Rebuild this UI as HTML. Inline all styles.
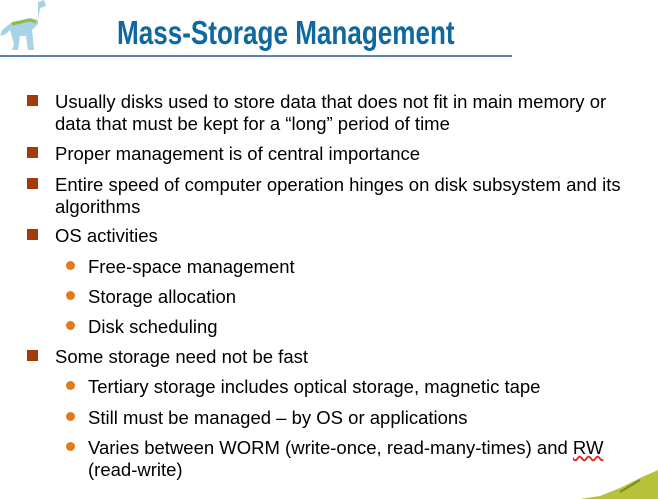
<!DOCTYPE html>
<html><head><meta charset="utf-8"><style>
body{margin:0;width:658px;height:499px;background:#fff;position:relative;overflow:hidden;font-family:"Liberation Sans",sans-serif;}
.t{position:absolute;left:117px;top:14px;font-family:"Liberation Sans",sans-serif;font-weight:bold;font-size:33px;color:#0f689e;white-space:nowrap;transform:scaleX(0.79);transform-origin:0 0;}
.hr{position:absolute;left:0;top:55px;width:512px;height:2px;background:#5b82b3;}
.l{position:absolute;font-size:18.5px;color:#000;white-space:nowrap;line-height:20px;}
.sq{position:absolute;left:27px;width:11px;height:11px;background:#a33a0a;}
.ci{position:absolute;left:66px;width:9px;height:9px;border-radius:50%;background:#e07a1a;}
</style></head><body>
<svg style="position:absolute;left:0;top:0" width="55" height="52"><path d="M38 2 L44 0 L46 6 L40 8 L38 20 L30 18 L12 22 L2 30 L0 36 L6 34 L10 30 L14 44 L12 50 L18 50 L20 36 L26 36 L28 50 L34 50 L32 30 L38 24 Z" fill="#a8d2e6"/><path d="M12 24 L30 20 L36 22" stroke="#8cbf3a" stroke-width="3" fill="none"/></svg>
<svg style="position:absolute;left:580px;top:470px" width="78" height="29"><path d="M78 0 L60 8 L40 18 L20 26 L0 29 L78 29 Z" fill="#b5c23a"/><path d="M60 10 L40 22" stroke="#7a8a20" stroke-width="2"/></svg>
<div class="t">Mass-Storage Management</div>
<div class="hr"></div>
<div class="sq" style="top:95px"></div><div class="l" style="left:55px;top:92px">Usually disks used to store data that does not fit in main memory or</div>
<div class="l" style="left:55px;top:114px">data that must be kept for a “long” period of time</div>
<div class="sq" style="top:147px"></div><div class="l" style="left:55px;top:144px">Proper management is of central importance</div>
<div class="sq" style="top:178px"></div><div class="l" style="left:55px;top:175px">Entire speed of computer operation hinges on disk subsystem and its</div>
<div class="l" style="left:55px;top:197px">algorithms</div>
<div class="sq" style="top:229px"></div><div class="l" style="left:55px;top:226px">OS activities</div>
<div class="ci" style="top:261px"></div><div class="l" style="left:88px;top:257px">Free-space management</div>
<div class="ci" style="top:291px"></div><div class="l" style="left:88px;top:287px">Storage allocation</div>
<div class="ci" style="top:321px"></div><div class="l" style="left:88px;top:317px">Disk scheduling</div>
<div class="sq" style="top:350px"></div><div class="l" style="left:55px;top:347px">Some storage need not be fast</div>
<div class="ci" style="top:381px"></div><div class="l" style="left:88px;top:377px">Tertiary storage includes optical storage, magnetic tape</div>
<div class="ci" style="top:412px"></div><div class="l" style="left:88px;top:408px">Still must be managed – by OS or applications</div>
<div class="ci" style="top:442px"></div><div class="l" style="left:88px;top:438px">Varies between WORM (write-once, read-many-times) and <span style="text-decoration:underline wavy #e02020">RW</span></div>
<div class="l" style="left:88px;top:460px">(read-write)</div>
</body></html>
